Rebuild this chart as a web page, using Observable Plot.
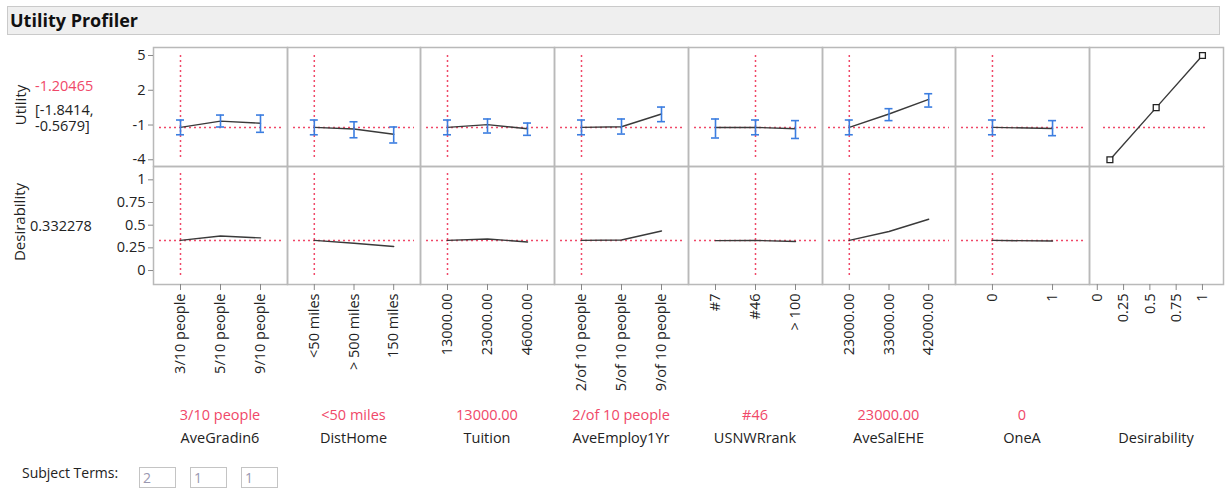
<!DOCTYPE html>
<html><head><meta charset="utf-8">
<script src="https://cdn.jsdelivr.net/npm/d3@7"></script>
<script src="https://cdn.jsdelivr.net/npm/@observablehq/plot@0.6"></script>
<style>
body{margin:0;background:#fff;font-family:"Open Sans",sans-serif;color:#222;}
#root{position:relative;width:1227px;height:493px;overflow:hidden;background:#fff;}
.abs{position:absolute;white-space:nowrap;line-height:1.05;}
.c{transform:translate(-50%,-50%);}
.lm{transform:translate(0,-50%);}
.box{position:absolute;border:1px solid #c4c4c4;width:37px;height:21px;font-size:14px;color:#9a98b0;line-height:20px;padding-left:3px;box-sizing:border-box;}
</style></head><body><div id="root"></div>
<script>
// ---- data ----
const factors = ["AveGradin6","DistHome","Tuition","AveEmploy1Yr","USNWRrank","AveSalEHE","OneA"];
const levelLabels = [
  ["3/10 people","5/10 people","9/10 people"],
  ["<50 miles","> 500 miles","150 miles"],
  ["13000.00","23000.00","46000.00"],
  ["2/of 10 people","5/of 10 people","9/of 10 people"],
  ["#7","#46","> 100"],
  ["23000.00","33000.00","42000.00"],
  ["0","1"]
];
const currentLevel = [0,0,0,0,1,0,0];
const currentUtility = -1.20465;
const currentCI = ["[-1.8414,","-0.5679]"];
const currentDesirability = 0.332278;
const utility = [
  [-1.20465,-0.66,-0.85],
  [-1.20465,-1.34,-1.80],
  [-1.20465,-0.97,-1.32],
  [-1.20465,-1.15,-0.05],
  [-1.22,-1.20465,-1.32],
  [-1.20465,-0.05,1.22],
  [-1.20465,-1.30]
];
const utilityLower = [
  [-1.8414,-1.17,-1.63],
  [-1.8414,-2.10,-2.55],
  [-1.8414,-1.69,-1.89],
  [-1.8414,-1.78,-0.71],
  [-2.12,-1.8414,-2.16],
  [-1.8414,-0.62,0.55],
  [-1.8414,-1.92]
];
const utilityUpper = [
  [-0.5679,-0.14,-0.14],
  [-0.5679,-0.72,-1.17],
  [-0.5679,-0.48,-0.83],
  [-0.5679,-0.48,0.55],
  [-0.48,-0.5679,-0.62],
  [-0.5679,0.41,1.70],
  [-0.5679,-0.62]
];
const desirability = [
  [0.332278,0.38,0.36],
  [0.332278,0.30,0.265],
  [0.332278,0.348,0.315],
  [0.332278,0.337,0.436],
  [0.33,0.332278,0.32],
  [0.332278,0.43,0.565],
  [0.332278,0.325]
];
const desFnD = [0.12, 0.56, 1];
const desFnU = [-4, 0.5, 5];
const utilityTicks = [-4,-1,2,5];
const desirabilityTicks = [0,0.25,0.5,0.75,1];
const subjectTerms = ["2","1","1"];

// ---- layout ----
const FONT = '"Open Sans", sans-serif';
const RED = "#f04868", BLUE = "#3b7de0", GRID = "#b9b9b9", LINE = "#3a3a3a";
const L0 = 153, PW = 133.7, TOP = 47, MID = 166, BOT = 284;
const colLeft = i => Math.round(L0 + PW * i);
const UDOM = [-4.58, 5.69], DDOM = [-0.154, 1.147];
const root = document.getElementById("root");

function place(node, left, top) {
  node.style.position = "absolute";
  node.style.left = left + "px";
  node.style.top = top + "px";
  root.appendChild(node);
}
function text(str, x, y, cls, style) {
  const d = document.createElement("div");
  d.className = "abs " + cls;
  d.textContent = str;
  d.style.left = x + "px"; d.style.top = y + "px";
  Object.assign(d.style, style || {});
  root.appendChild(d);
  return d;
}
function panel({w, h, ml = 0, mb = 0, xDomain, yDomain, marks}) {
  return Plot.plot({
    width: w + ml, height: h + mb,
    marginTop: 0, marginRight: 0, marginBottom: mb, marginLeft: ml,
    x: {domain: xDomain, axis: null, label: null},
    y: {domain: yDomain, axis: null, label: null},
    style: {overflow: "visible", background: "transparent", fontFamily: FONT, fontSize: "14px", color: "#222"},
    marks
  });
}
const dash = {stroke: RED, strokeDasharray: "2,3", strokeWidth: 1.5};

// title bar
const bar = document.createElement("div");
bar.className = "abs";
Object.assign(bar.style, {left: "7px", top: "6px", width: "1213px", height: "29px", background: "#efefef", border: "1px solid #cacaca", boxSizing: "border-box"});
root.appendChild(bar);
text("Utility Profiler", 10, 20, "lm", {fontWeight: "bold", fontSize: "18px", color: "#111"});

// left labels
text("Utility", 21, 105, "c", {transform: "translate(-50%,-50%) rotate(-90deg)", fontSize: "15px"});
text(currentUtility.toFixed(5), 35, 86, "lm", {color: RED, fontSize: "14.5px"});
text(currentCI.join("\n"), 35, 118, "lm", {fontSize: "14.5px", whiteSpace: "pre", lineHeight: "16px"});
text("Desirability", 20, 222, "c", {transform: "translate(-50%,-50%) rotate(-90deg)", fontSize: "15px"});
text(String(currentDesirability), 30, 226, "lm", {fontSize: "14.5px"});

// factor columns
factors.forEach((f, c) => {
  const n = levelLabels[c].length;
  const rows = levelLabels[c].map((lab, i) => ({i, u: utility[c][i], lo: utilityLower[c][i], hi: utilityUpper[c][i], d: desirability[c][i]}));
  const xDomain = n === 3 ? [-0.675, 2.675] : [-0.615, 1.615];
  const left = colLeft(c), w = colLeft(c + 1) - left;
  const ml = c === 0 ? 60 : 0;
  const cur = currentLevel[c];
  const topMarks = [
    Plot.ruleY([currentUtility], {...dash, insetLeft: 6, insetRight: 6}),
    Plot.ruleX([cur], {...dash, insetTop: 8, insetBottom: 7}),
    Plot.line(rows, {x: "i", y: "u", stroke: LINE, strokeWidth: 1.4}),
    Plot.ruleX(rows, {x: "i", y1: "lo", y2: "hi", stroke: BLUE, strokeWidth: 1.6}),
    Plot.ruleY(rows, {y: "lo", x1: "i", x2: "i", insetLeft: -4, insetRight: -4, stroke: BLUE, strokeWidth: 1.6}),
    Plot.ruleY(rows, {y: "hi", x1: "i", x2: "i", insetLeft: -4, insetRight: -4, stroke: BLUE, strokeWidth: 1.6}),
    Plot.frame({stroke: GRID, strokeWidth: 1.5})
  ];
  if (c === 0) topMarks.push(Plot.axisY({ticks: utilityTicks, tickFormat: d => String(d), tickSize: 5, tickPadding: 3, stroke: "#888", fill: "#222", fontSize: 14.5}));
  place(panel({w, h: MID - TOP, ml, xDomain, yDomain: UDOM, marks: topMarks}), left - ml, TOP);

  const botMarks = [
    Plot.ruleY([currentDesirability], {...dash, insetLeft: 6, insetRight: 6}),
    Plot.ruleX([cur], {...dash, insetTop: 7, insetBottom: 6}),
    Plot.line(rows, {x: "i", y: "d", stroke: LINE, strokeWidth: 1.4}),
    Plot.frame({stroke: GRID, strokeWidth: 1.5}),
    Plot.axisX({ticks: d3.range(n), tickFormat: i => levelLabels[c][i], tickRotate: -90, tickSize: 6, tickPadding: 3, stroke: "#888", fill: "#222", fontSize: 14.5})
  ];
  if (c === 0) botMarks.push(Plot.axisY({ticks: desirabilityTicks, tickFormat: d => String(d), tickSize: 5, tickPadding: 3, stroke: "#888", fill: "#222", fontSize: 14.5}));
  place(panel({w, h: BOT - MID, ml, mb: 120, xDomain, yDomain: DDOM, marks: botMarks}), left - ml, MID);

  const cx = left + w / 2;
  text(levelLabels[c][cur], cx, 415, "c", {color: RED, fontSize: "14.5px"});
  text(f, cx, 438, "c", {fontSize: "14.5px"});
});

// desirability column
{
  const c = 7, left = colLeft(c), w = Math.round(L0 + PW * 8) - left;
  const dRows = desFnD.map((d, i) => ({d, u: desFnU[i]}));
  const dx = [-0.074, 1.2];
  place(panel({w, h: MID - TOP, xDomain: dx, yDomain: UDOM, marks: [
    Plot.ruleY([currentUtility], {...dash, insetLeft: 14, insetRight: 15}),
    Plot.line(dRows, {x: "d", y: "u", stroke: LINE, strokeWidth: 1.4}),
    Plot.dot(dRows, {x: "d", y: "u", symbol: "square", r: 3.3, fill: "white", stroke: "#222", strokeWidth: 1.3}),
    Plot.frame({stroke: GRID, strokeWidth: 1.5})
  ]}), left, TOP);
  place(panel({w, h: BOT - MID, mb: 120, xDomain: dx, yDomain: DDOM, marks: [
    Plot.frame({stroke: GRID, strokeWidth: 1.5}),
    Plot.axisX({ticks: desirabilityTicks, tickFormat: d => String(d), tickRotate: -90, tickSize: 6, tickPadding: 3, stroke: "#888", fill: "#222", fontSize: 14.5})
  ]}), left, MID);
  text("Desirability", left + w / 2, 438, "c", {fontSize: "14.5px"});
}

// subject terms
text("Subject Terms:", 22, 473, "lm", {fontSize: "14px"});
subjectTerms.forEach((t, i) => {
  const b = document.createElement("div");
  b.className = "box";
  b.textContent = t;
  b.style.left = [139, 190, 241][i] + "px";
  b.style.top = "467px";
  root.appendChild(b);
});
</script></body></html>
